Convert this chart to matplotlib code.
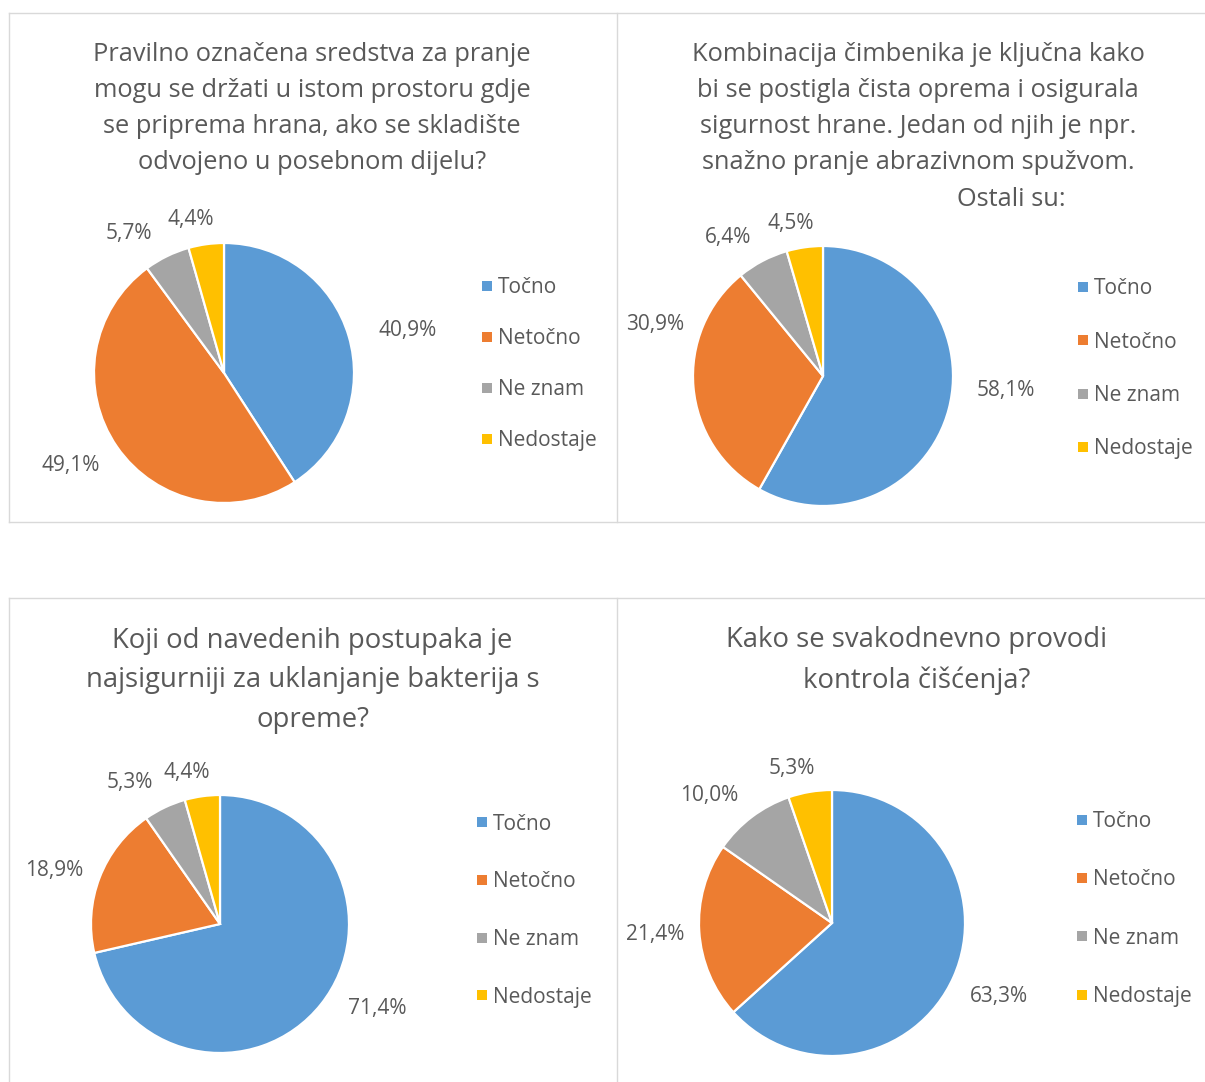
import matplotlib
matplotlib.use("Agg")
import matplotlib.pyplot as plt
from matplotlib.lines import Line2D
import numpy as np

plt.rcParams['font.family'] = ['Open Sans', 'DejaVu Sans']

W, H = 1205, 1082
GREY = '#595959'
colors = ['#5B9BD5', '#ED7D31', '#A5A5A5', '#FFC000']

categories = ['Točno', 'Netočno', 'Ne znam', 'Nedostaje']

title_tl = "Pravilno označena sredstva za pranje\nmogu se držati u istom prostoru gdje\nse priprema hrana, ako se skladište\nodvojeno u posebnom dijelu?"
title_tr = "Kombinacija čimbenika je ključna kako\nbi se postigla čista oprema i osigurala\nsigurnost hrane. Jedan od njih je npr.\nsnažno pranje abrazivnom spužvom."
title_tr_tail = "Ostali su:"
title_bl = "Koji od navedenih postupaka je\nnajsigurniji za uklanjanje bakterija s\nopreme?"
title_br = "Kako se svakodnevno provodi\nkontrola čišćenja?"

values_tl = [40.9, 49.1, 5.7, 4.4]
values_tr = [58.1, 30.9, 6.4, 4.5]
values_bl = [71.4, 18.9, 5.3, 4.4]
values_br = [63.3, 21.4, 10.0, 5.3]

fig = plt.figure(figsize=(W / 100, H / 100), dpi=100)
fig.patch.set_facecolor('white')

# panel borders (pixel coords, y from top)
def hline(x0, x1, y):
    fig.add_artist(Line2D([x0 / W, x1 / W], [1 - y / H, 1 - y / H], color='#D9D9D9', lw=1.0))

def vline(x, y0, y1):
    fig.add_artist(Line2D([x / W, x / W], [1 - y0 / H, 1 - y1 / H], color='#D9D9D9', lw=1.0))

hline(8.5, 1205, 12.5)
hline(8.5, 1205, 522)
hline(8.5, 1205, 598)
vline(8.5, 12.5, 522)
vline(8.5, 598, 1082)
vline(617, 12.5, 522)
vline(617, 598, 1082)


def draw_panel(values, cx, cy, r, dists, nudges, title, tx, ty, tsize, leg_x, leg_y, leg_space):
    ax = fig.add_axes([(cx - r) / W, 1 - (cy + r) / H, 2 * r / W, 2 * r / H])
    wedges, _ = ax.pie(values, colors=colors, startangle=90, counterclock=False,
                       wedgeprops=dict(edgecolor='white', linewidth=1.6))
    ax.set_xlim(-1, 1)
    ax.set_ylim(-1, 1)
    for w, v, d, n in zip(wedges, values, dists, nudges):
        ang = np.deg2rad((w.theta1 + w.theta2) / 2 + n)
        ax.text(d * np.cos(ang), d * np.sin(ang), f"{v:.1f}%".replace('.', ','),
                ha='center', va='center', fontsize=15, color=GREY)
    fig.text(tx / W, 1 - ty / H, title, ha='center', va='center', fontsize=tsize,
             color=GREY, linespacing=1.57, multialignment='center')
    handles = [Line2D([], [], marker='s', linestyle='none', markersize=6.5,
                      markerfacecolor=c, markeredgewidth=0) for c in colors]
    leg = ax.legend(handles, categories, loc='upper left',
                    bbox_to_anchor=(leg_x / W, 1 - leg_y / H), bbox_transform=fig.transFigure,
                    frameon=False, fontsize=15, handlelength=0.45, handletextpad=0.33,
                    labelspacing=leg_space, borderpad=0, borderaxespad=0)
    for t in leg.get_texts():
        t.set_color(GREY)
    return ax


draw_panel(values_tl, 224, 373, 130, [1.45, 1.38, 1.30, 1.21], [-3.4, -3.4, 8.3, 4.4],
           title_tl, 312, 108.5, 18.3, 482, 277, 1.44)
draw_panel(values_tr, 823, 376, 130, [1.41, 1.35, 1.29, 1.20], [10.2, -22, 6.7, 3.7],
           title_tr, 918, 108.5, 18.3, 1078, 278.5, 1.55)
fig.text(1011 / W, 1 - 200 / H, title_tr_tail, ha='center', va='center', fontsize=18.3, color=GREY)
draw_panel(values_bl, 220, 924, 129, [1.38, 1.35, 1.30, 1.20], [10.3, 3, 7.1, 4.3],
           title_bl, 312.5, 680.5, 19.8, 477, 813.5, 1.76)
draw_panel(values_br, 832, 923, 133, [1.37, 1.33, 1.33, 1.20], [0, 0, 6.9, 5.1],
           title_br, 917, 660.5, 19.8, 1077, 811, 1.79)

fig.savefig('out.png', dpi=100, facecolor='white')
